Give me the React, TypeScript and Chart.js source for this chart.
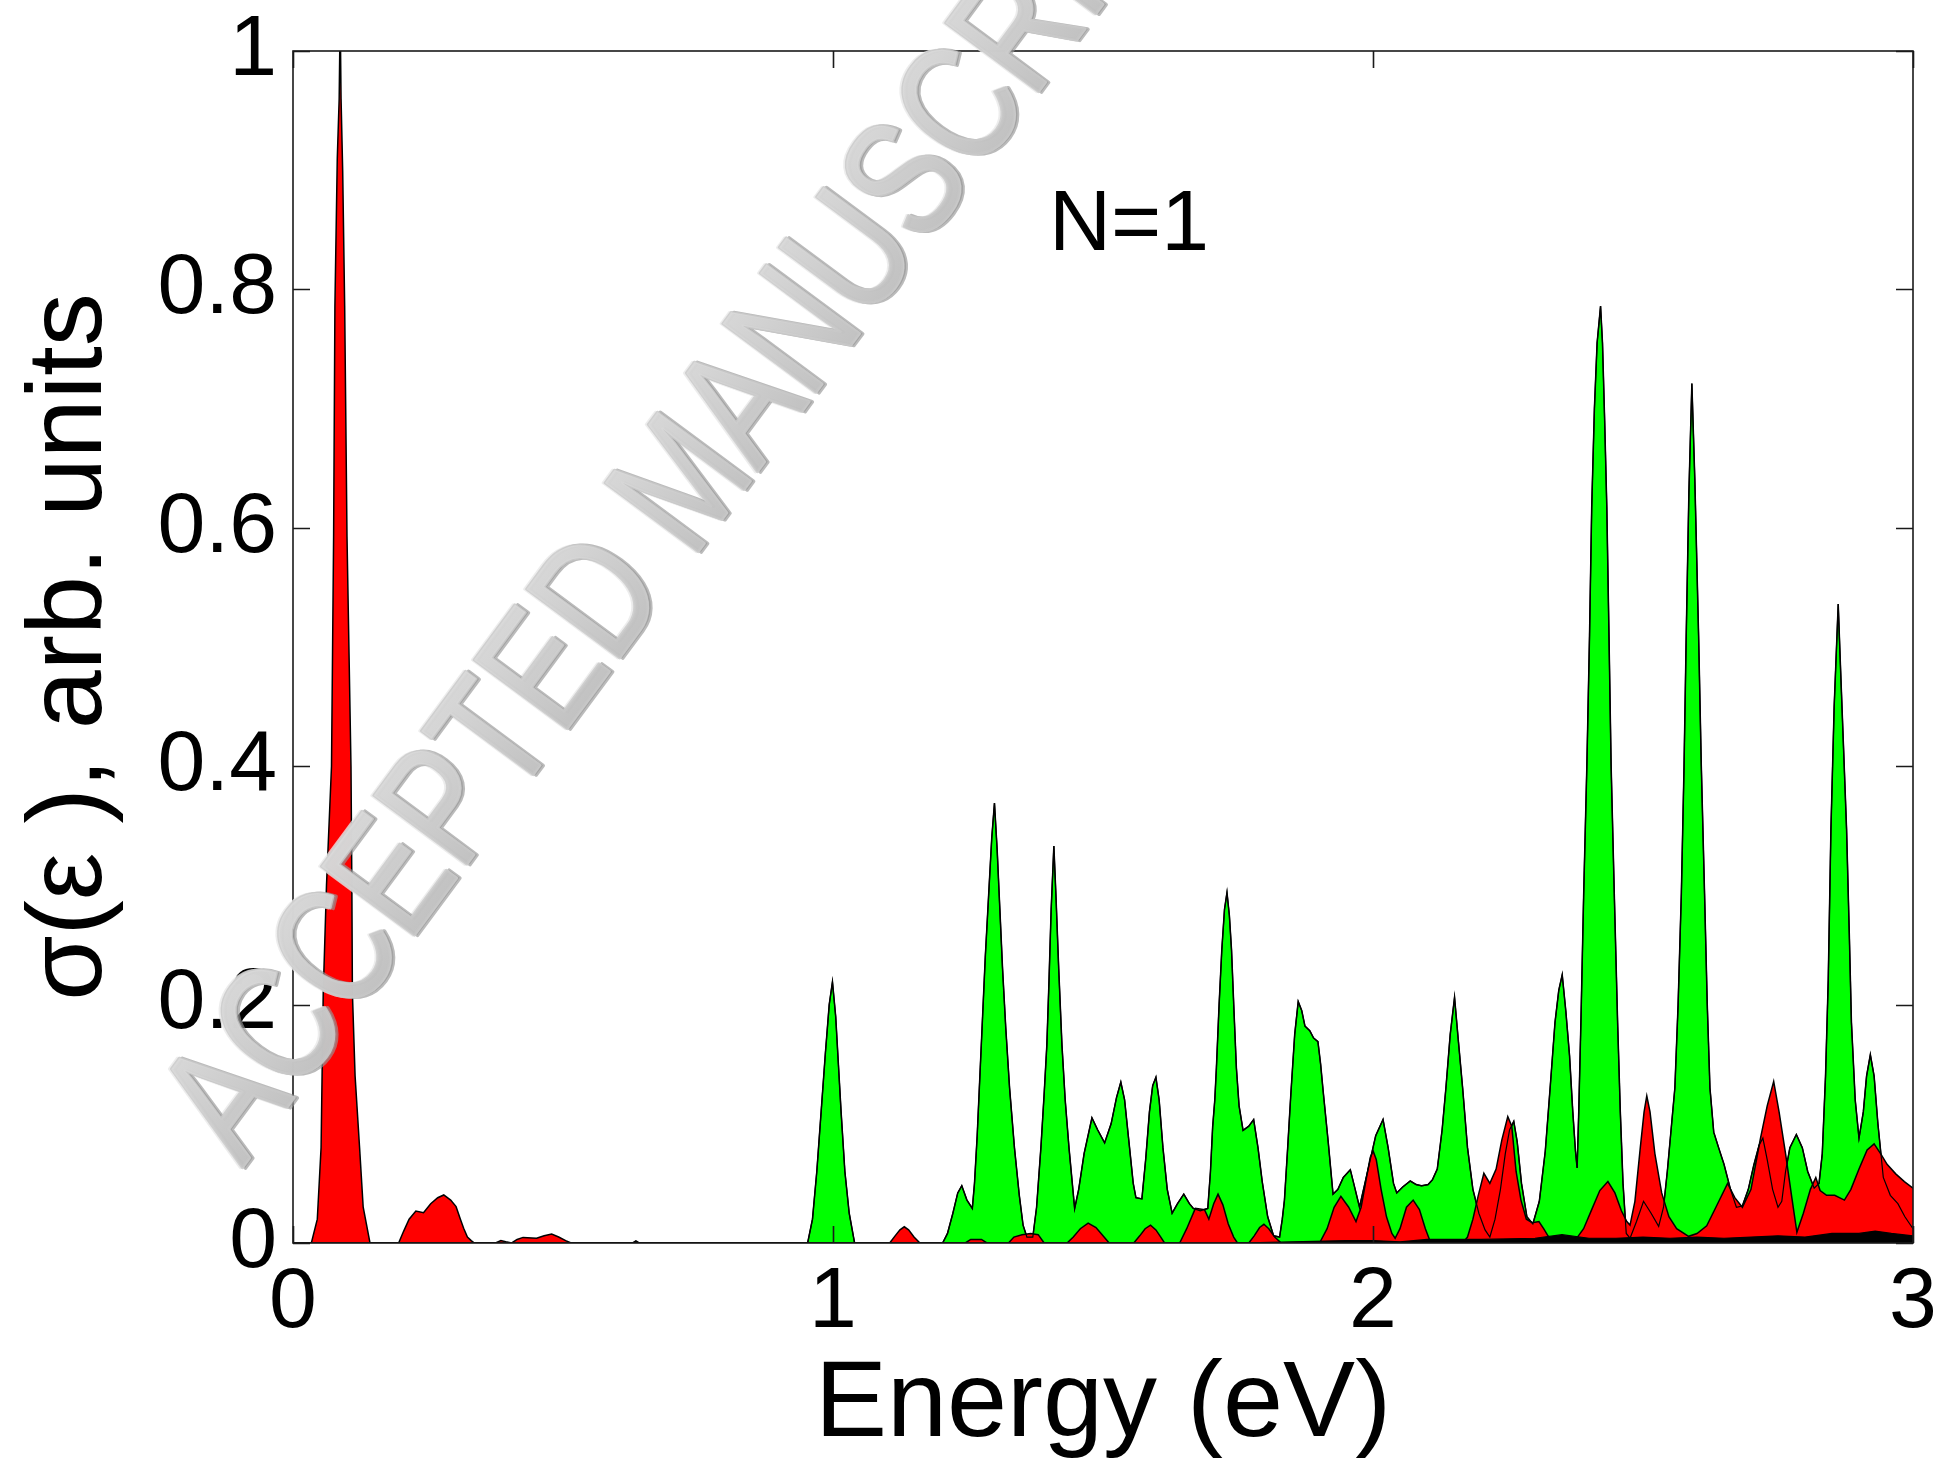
import React, { useEffect, useRef } from 'react';
import { Chart, registerables } from 'chart.js';

Chart.register(...registerables);

const FONT = '"Liberation Sans", Arial, Helvetica, sans-serif';

// Axis ticks
const xTickValues = [0, 1, 2, 3];
const xTickLabels = ['0', '1', '2', '3'];
const yTickValues = [0, 0.2, 0.4, 0.6, 0.8, 1];
const yTickLabels = ['0', '0.2', '0.4', '0.6', '0.8', '1'];

const xTitle = 'Energy (eV)';
const yTitle = 'σ(ε ), arb. units';
const panelLabel = 'N=1';
const panelLabelAt = [1.4, 0.833]; // energy, sigma
const stampText = 'ACCEPTED MANUSCRIPT';

// Spectral contributions: [energy (eV), sigma]
const redSpectrum: [number, number][] = [
  [0, 0], [0.034, 0], [0.045, 0.02], [0.052, 0.08], [0.056, 0.21], [0.062, 0.3], [0.0713, 0.4],
  [0.0752, 0.593], [0.0776, 0.786], [0.082, 0.91], [0.0855, 0.96], [0.0874, 1.03], [0.089, 0.96],
  [0.092, 0.9], [0.0957, 0.786], [0.1, 0.593], [0.1074, 0.4], [0.109, 0.3], [0.11, 0.21],
  [0.115, 0.14], [0.1233, 0.08], [0.13, 0.03], [0.1426, 0],
  [0.1956, 0], [0.205, 0.01], [0.215, 0.02], [0.2275, 0.0268], [0.2417, 0.0254], [0.255, 0.033],
  [0.268, 0.038], [0.2792, 0.0403], [0.292, 0.036], [0.302, 0.0305], [0.31, 0.02], [0.316, 0.0123],
  [0.323, 0.005], [0.33, 0.002], [0.336, 0],
  [0.375, 0], [0.385, 0.002], [0.394, 0.001], [0.405, 0], [0.415, 0.003], [0.426, 0.0047],
  [0.451, 0.004], [0.465, 0.006], [0.479, 0.0075], [0.492, 0.005], [0.505, 0.002], [0.515, 0],
  [1.105, 0], [1.115, 0.006], [1.124, 0.011], [1.132, 0.0136], [1.14, 0.011], [1.15, 0.005], [1.161, 0],
  [1.245, 0], [1.255, 0.003], [1.275, 0.003], [1.285, 0],
  [1.325, 0], [1.335, 0.005], [1.35, 0.007], [1.366, 0.008], [1.38, 0.007], [1.391, 0],
  [1.4335, 0], [1.445, 0.005], [1.458, 0.012], [1.4725, 0.0166], [1.487, 0.013], [1.5, 0.006], [1.5114, 0],
  [1.557, 0], [1.568, 0.006], [1.578, 0.012], [1.588, 0.015], [1.598, 0.011], [1.607, 0.005], [1.614, 0],
  [1.642, 0], [1.655, 0.012], [1.671, 0.029], [1.688, 0.028], [1.696, 0.02], [1.705, 0.033],
  [1.713, 0.041], [1.722, 0.032], [1.732, 0.016], [1.742, 0.005], [1.749, 0],
  [1.77, 0], [1.78, 0.006], [1.79, 0.013], [1.798, 0.0157], [1.807, 0.012], [1.818, 0.005], [1.83, 0],
  [1.901, 0], [1.915, 0.012], [1.928, 0.03], [1.9405, 0.0391], [1.955, 0.03], [1.9685, 0.018],
  [1.978, 0.03], [1.988, 0.055], [1.995, 0.072], [2.0004, 0.077], [2.006, 0.07], [2.015, 0.045],
  [2.025, 0.022], [2.035, 0.008], [2.041, 0.004], [2.05, 0.012], [2.062, 0.03], [2.0744, 0.036],
  [2.086, 0.028], [2.097, 0.012], [2.107, 0],
  [2.166, 0], [2.175, 0.005], [2.185, 0.02], [2.195, 0.04], [2.2053, 0.0585], [2.2164, 0.05],
  [2.228, 0.062], [2.2386, 0.0865], [2.2496, 0.106], [2.257, 0.098], [2.265, 0.06], [2.274, 0.036],
  [2.284, 0.02], [2.295, 0.017], [2.3073, 0.018], [2.316, 0.012], [2.324, 0.006], [2.335, 0.002],
  [2.374, 0.002], [2.39, 0.012], [2.405, 0.028], [2.42, 0.044], [2.435, 0.0515], [2.448, 0.042],
  [2.46, 0.027], [2.47, 0.018], [2.476, 0.015], [2.485, 0.035], [2.495, 0.08], [2.502, 0.11],
  [2.507, 0.1235], [2.513, 0.11], [2.522, 0.075], [2.5346, 0.042], [2.548, 0.022], [2.5623, 0.012],
  [2.5845, 0.0056], [2.6, 0.008], [2.618, 0.0145], [2.635, 0.03], [2.6566, 0.05], [2.67, 0.038],
  [2.684, 0.03], [2.7, 0.045], [2.7176, 0.088], [2.73, 0.115], [2.742, 0.1355], [2.752, 0.11],
  [2.764, 0.075], [2.775, 0.04], [2.785, 0.009], [2.797, 0.025], [2.81, 0.045], [2.82, 0.055],
  [2.828, 0.044], [2.84, 0.04], [2.855, 0.04], [2.873, 0.036], [2.885, 0.045], [2.9, 0.062],
  [2.915, 0.078], [2.928, 0.0831], [2.94, 0.075], [2.952, 0.066], [2.968, 0.058], [2.984, 0.0515],
  [3.0, 0.046],
];

const greenSpectrum: [number, number][] = [
  [0, 0], [0.953, 0], [0.962, 0.02], [0.97, 0.06], [0.978, 0.11], [0.986, 0.16], [0.993, 0.2],
  [0.999, 0.219], [1.005, 0.19], [1.01, 0.15], [1.015, 0.11], [1.022, 0.06], [1.03, 0.025], [1.04, 0],
  [1.203, 0], [1.212, 0.008], [1.222, 0.025], [1.231, 0.042], [1.2385, 0.048], [1.248, 0.036],
  [1.258, 0.029], [1.262, 0.05], [1.267, 0.09], [1.271, 0.13], [1.276, 0.18], [1.282, 0.24],
  [1.288, 0.29], [1.294, 0.34], [1.299, 0.369], [1.304, 0.33], [1.309, 0.28], [1.314, 0.23],
  [1.32, 0.18], [1.327, 0.13], [1.336, 0.08], [1.345, 0.04], [1.352, 0.015], [1.359, 0.005],
  [1.37, 0.005], [1.377, 0.03], [1.385, 0.08], [1.391, 0.125], [1.396, 0.166], [1.4, 0.22],
  [1.404, 0.28], [1.409, 0.333], [1.413, 0.29], [1.418, 0.23], [1.424, 0.166], [1.43, 0.12],
  [1.437, 0.08], [1.4475, 0.029], [1.455, 0.045], [1.465, 0.075], [1.4795, 0.105], [1.49, 0.095],
  [1.503, 0.084], [1.515, 0.1], [1.525, 0.122], [1.533, 0.135], [1.54, 0.12], [1.548, 0.085],
  [1.556, 0.05], [1.561, 0.038], [1.572, 0.037], [1.579, 0.07], [1.586, 0.11], [1.592, 0.132],
  [1.598, 0.139], [1.604, 0.12], [1.611, 0.08], [1.619, 0.045], [1.628, 0.025], [1.638, 0.033],
  [1.6496, 0.041], [1.66, 0.033], [1.6673, 0.029], [1.68, 0.027], [1.694, 0.029], [1.699, 0.06],
  [1.703, 0.097], [1.707, 0.12], [1.71, 0.147], [1.715, 0.2], [1.72, 0.246], [1.725, 0.28],
  [1.7296, 0.294], [1.734, 0.275], [1.738, 0.246], [1.743, 0.19], [1.747, 0.147], [1.752, 0.115],
  [1.7594, 0.0945], [1.77, 0.098], [1.779, 0.1035], [1.787, 0.08], [1.795, 0.051], [1.805, 0.022],
  [1.816, 0.006], [1.827, 0.005], [1.832, 0.02], [1.836, 0.036], [1.842, 0.08], [1.848, 0.126],
  [1.855, 0.175], [1.8615, 0.2025], [1.868, 0.195], [1.874, 0.182], [1.883, 0.178], [1.89, 0.172],
  [1.898, 0.169], [1.903, 0.15], [1.908, 0.126], [1.917, 0.085], [1.926, 0.041], [1.935, 0.045],
  [1.945, 0.055], [1.958, 0.0615], [1.967, 0.045], [1.975, 0.03], [1.985, 0.05], [1.995, 0.07],
  [2.005, 0.09], [2.0186, 0.1036], [2.028, 0.08], [2.038, 0.05], [2.044, 0.042], [2.055, 0.047],
  [2.069, 0.052], [2.08, 0.049], [2.09, 0.048], [2.102, 0.049], [2.11, 0.053], [2.119, 0.062],
  [2.128, 0.095], [2.135, 0.13], [2.143, 0.175], [2.151, 0.206], [2.158, 0.17], [2.166, 0.13],
  [2.175, 0.08], [2.185, 0.045], [2.196, 0.025], [2.2075, 0.011], [2.2164, 0.005], [2.226, 0.02],
  [2.236, 0.045], [2.245, 0.075], [2.253, 0.095], [2.2607, 0.102], [2.267, 0.085], [2.275, 0.05],
  [2.285, 0.022], [2.296, 0.016], [2.308, 0.035], [2.319, 0.077], [2.328, 0.13], [2.337, 0.185],
  [2.344, 0.212], [2.3504, 0.225], [2.357, 0.195], [2.364, 0.157], [2.37, 0.11], [2.375, 0.077],
  [2.378, 0.063], [2.381, 0.11], [2.385, 0.185], [2.39, 0.29], [2.396, 0.4], [2.401, 0.51],
  [2.405, 0.617], [2.41, 0.7], [2.415, 0.755], [2.4214, 0.786], [2.425, 0.755], [2.429, 0.69],
  [2.433, 0.617], [2.437, 0.51], [2.441, 0.4], [2.447, 0.29], [2.453, 0.185], [2.458, 0.11],
  [2.463, 0.05], [2.469, 0.008], [2.476, 0.004], [2.488, 0.018], [2.501, 0.035], [2.515, 0.025],
  [2.529, 0.014], [2.538, 0.03], [2.545, 0.06], [2.552, 0.095], [2.559, 0.13], [2.565, 0.2],
  [2.571, 0.293], [2.576, 0.4], [2.58, 0.509], [2.585, 0.63], [2.5905, 0.721], [2.596, 0.64],
  [2.603, 0.509], [2.608, 0.4], [2.614, 0.293], [2.619, 0.2], [2.624, 0.13], [2.631, 0.093],
  [2.64, 0.08], [2.65, 0.066], [2.662, 0.045], [2.673, 0.03], [2.684, 0.031], [2.695, 0.045],
  [2.705, 0.065], [2.715, 0.082], [2.722, 0.088], [2.73, 0.07], [2.74, 0.045], [2.75, 0.03],
  [2.757, 0.035], [2.764, 0.06], [2.772, 0.08], [2.784, 0.091], [2.795, 0.08], [2.805, 0.06],
  [2.817, 0.046], [2.826, 0.05], [2.832, 0.075], [2.838, 0.14], [2.843, 0.22], [2.848, 0.347],
  [2.854, 0.45], [2.8615, 0.536], [2.866, 0.48], [2.871, 0.42], [2.877, 0.347], [2.882, 0.26],
  [2.886, 0.185], [2.893, 0.12], [2.9, 0.088], [2.908, 0.11], [2.914, 0.14], [2.921, 0.158],
  [2.928, 0.14], [2.935, 0.1], [2.945, 0.055], [2.958, 0.04], [2.972, 0.033], [2.985, 0.022],
  [3.0, 0.012],
];

const blackSpectrum: [number, number][] = [
  [0, 0], [0.628, 0], [0.635, 0.002], [0.642, 0], [1.75, 0], [1.85, 0.001], [1.95, 0.002],
  [2.0, 0.002], [2.05, 0.001], [2.1, 0.003], [2.2, 0.003], [2.3, 0.004], [2.35, 0.007],
  [2.4, 0.004], [2.45, 0.004], [2.5, 0.005], [2.55, 0.004], [2.6, 0.005], [2.65, 0.004],
  [2.7, 0.005], [2.75, 0.006], [2.8, 0.005], [2.85, 0.008], [2.9, 0.008], [2.93, 0.01],
  [2.96, 0.008], [3.0, 0.006],
];

const toPoints = (s: [number, number][]) => s.map(([x, y]) => ({ x, y }));

const labelFor = (values: number[], labels: string[]) => (v: number | string) => {
  const i = values.findIndex((t) => Math.abs(t - Number(v)) < 1e-9);
  return i >= 0 ? labels[i] : '';
};

// Embossed diagonal stamp across the figure
function drawStamp(ctx: CanvasRenderingContext2D) {
  const size = 168;
  const squeeze = 0.786;
  const draw = (dx: number, dy: number, fill: string | CanvasGradient, stroke: string, lw: number) => {
    ctx.fillStyle = fill;
    ctx.strokeStyle = stroke;
    ctx.lineWidth = lw;
    ctx.strokeText(stampText, dx, dy);
    ctx.fillText(stampText, dx, dy);
  };
  ctx.save();
  ctx.translate(242, 1168);
  ctx.rotate((-53.5 * Math.PI) / 180);
  ctx.scale(squeeze, 1);
  ctx.font = `${size}px ${FONT}`;
  ctx.textAlign = 'left';
  ctx.textBaseline = 'alphabetic';
  ctx.lineJoin = 'round';
  // light upper rim
  draw(-1.5, -1.5, 'rgba(232,232,232,0.8)', 'rgba(232,232,232,0.8)', 3);
  // dark lower rim
  draw(2, 2.5, 'rgba(150,150,150,0.65)', 'rgba(150,150,150,0.65)', 4);
  // body
  const g = ctx.createLinearGradient(0, -size * 0.75, 0, 0);
  g.addColorStop(0, 'rgba(222,222,222,0.88)');
  g.addColorStop(1, 'rgba(196,196,196,0.88)');
  draw(0, 0, g, 'rgba(204,204,204,0.88)', 3);
  ctx.restore();
}

// Boxed frame with inward ticks on all four sides, plus the panel label
const framePlugin = {
  id: 'boxFrame',
  afterDatasetsDraw(chart: any) {
    const { ctx, chartArea, scales } = chart;
    const { left, right, top, bottom } = chartArea;
    const tick = 17;
    ctx.save();
    ctx.strokeStyle = '#1a1a1a';
    ctx.lineWidth = 1.6;
    ctx.strokeRect(left, top, right - left, bottom - top);
    ctx.beginPath();
    xTickValues.forEach((v) => {
      const px = Math.round(scales.x.getPixelForValue(v)) + 0.5;
      ctx.moveTo(px, bottom);
      ctx.lineTo(px, bottom - tick);
      ctx.moveTo(px, top);
      ctx.lineTo(px, top + tick);
    });
    yTickValues.forEach((v) => {
      const py = Math.round(scales.y.getPixelForValue(v)) + 0.5;
      ctx.moveTo(left, py);
      ctx.lineTo(left + tick, py);
      ctx.moveTo(right, py);
      ctx.lineTo(right - tick, py);
    });
    ctx.stroke();

    ctx.fillStyle = '#000';
    ctx.font = `86px ${FONT}`;
    ctx.textAlign = 'left';
    ctx.textBaseline = 'alphabetic';
    ctx.fillText(
      panelLabel,
      scales.x.getPixelForValue(panelLabelAt[0]),
      scales.y.getPixelForValue(panelLabelAt[1])
    );
    ctx.restore();
  },
  afterDraw(chart: any) {
    drawStamp(chart.ctx);
  },
};

export default function App() {
  const canvasRef = useRef<HTMLCanvasElement | null>(null);

  useEffect(() => {
    if (!canvasRef.current) return;
    const green = toPoints(greenSpectrum);
    const chart = new Chart(canvasRef.current, {
      type: 'line',
      data: {
        datasets: [
          {
            label: 'green edge',
            data: green,
            borderColor: '#000',
            borderWidth: 1.2,
            fill: false,
            pointRadius: 0,
          },
          {
            label: 'black',
            data: toPoints(blackSpectrum),
            borderColor: '#000',
            backgroundColor: '#000',
            borderWidth: 1.2,
            fill: 'origin',
            pointRadius: 0,
          },
          {
            label: 'red',
            data: toPoints(redSpectrum),
            borderColor: '#000',
            backgroundColor: '#ff0000',
            borderWidth: 1.5,
            fill: 'origin',
            pointRadius: 0,
          },
          {
            label: 'green',
            data: green,
            borderColor: '#000',
            backgroundColor: '#00ff00',
            borderWidth: 1.5,
            fill: 'origin',
            pointRadius: 0,
          },
        ],
      },
      options: {
        responsive: true,
        maintainAspectRatio: false,
        animation: false,
        events: [],
        layout: { padding: { left: 0, right: 26, top: 51, bottom: 0 } },
        elements: { line: { tension: 0 }, point: { radius: 0 } },
        plugins: {
          legend: { display: false },
          tooltip: { enabled: false },
        },
        scales: {
          x: {
            type: 'linear',
            min: 0,
            max: 3,
            grid: { display: false, drawTicks: false },
            border: { display: false },
            afterBuildTicks: (s: any) => {
              s.ticks = xTickValues.map((value) => ({ value }));
            },
            afterFit: (s: any) => {
              s.height = 223;
              s.paddingLeft = 0;
              s.paddingRight = 0;
            },
            ticks: {
              padding: 9,
              color: '#000',
              font: { family: FONT, size: 86 },
              maxRotation: 0,
              autoSkip: false,
              callback: labelFor(xTickValues, xTickLabels),
            },
            title: {
              display: true,
              text: xTitle,
              color: '#000',
              font: { family: FONT, size: 108, lineHeight: 1.1 },
              padding: 0,
            },
          },
          y: {
            type: 'linear',
            min: 0,
            max: 1,
            grid: { display: false, drawTicks: false },
            border: { display: false },
            afterBuildTicks: (s: any) => {
              s.ticks = yTickValues.map((value) => ({ value }));
            },
            afterFit: (s: any) => {
              s.width = 293;
              s.paddingTop = 0;
              s.paddingBottom = 0;
            },
            ticks: {
              padding: 16,
              color: '#000',
              font: { family: FONT, size: 86 },
              autoSkip: false,
              callback: labelFor(yTickValues, yTickLabels),
            },
            title: {
              display: true,
              text: yTitle,
              color: '#000',
              font: { family: FONT, size: 106 },
              padding: { top: 8, bottom: 0 },
            },
          },
        },
      },
      plugins: [framePlugin],
    } as any);
    return () => chart.destroy();
  }, []);

  return (
    <div
      style={{
        position: 'absolute',
        left: 0,
        top: 0,
        width: 1939,
        height: 1466,
        background: '#fff',
      }}
    >
      <canvas ref={canvasRef} />
    </div>
  );
}
